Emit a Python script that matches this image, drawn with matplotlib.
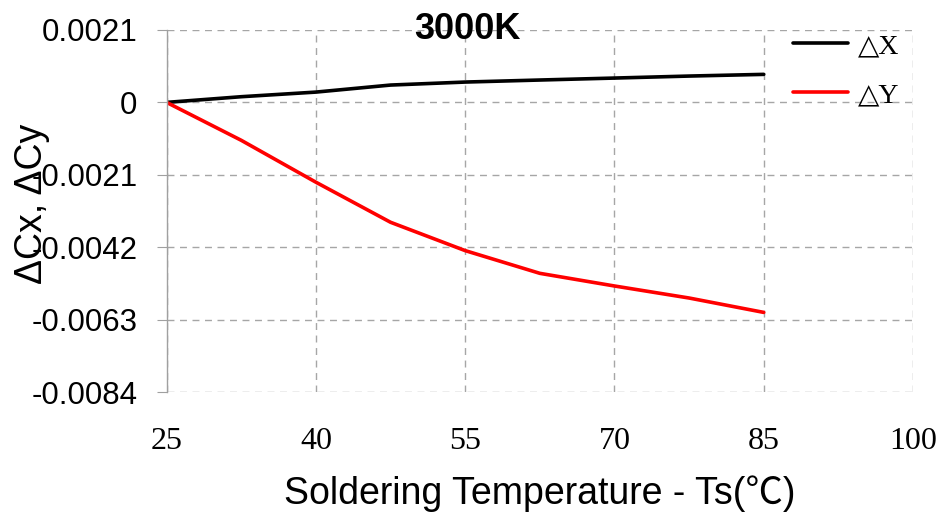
import numpy as np
from matplotlib import pyplot as plt

# data
temps = [25, 32.5, 40, 47.5, 55, 62.5, 70, 77.5, 85]
delta_x = [0, 0.000165, 0.000299, 0.000503, 0.00059, 0.000649, 0.000706, 0.000764, 0.000813]
delta_y = [0, -0.0011, -0.002315, -0.003477, -0.004299, -0.004958, -0.005325, -0.005674, -0.006091]

x_ticks = [25, 40, 55, 70, 85, 100]
y_ticks = [0.0021, 0, -0.0021, -0.0042, -0.0063, -0.0084]
y_tick_labels = ['0.0021', '0', '-0.0021', '-0.0042', '-0.0063', '-0.0084']

sans = ['Liberation Sans', 'Noto Sans CJK SC', 'DejaVu Sans']
serif = ['Liberation Serif', 'DejaVu Serif']

fig = plt.figure(figsize=(9.43, 5.19), dpi=100)
ax = fig.add_axes([0.1767, 0.2447, 0.7915, 0.6975])

ax.plot(temps, delta_x, color='black', lw=2.6, label='\u25b3X', solid_capstyle='round')
ax.plot(temps, delta_y, color='#ff0000', lw=2.6, label='\u25b3Y', solid_capstyle='round')

ax.set_xlim(25, 100)
ax.set_ylim(-0.0084, 0.0021)
ax.set_xticks(x_ticks)
ax.set_xticklabels([str(t) for t in x_ticks], family=serif, fontsize=23)
ax.set_yticks(y_ticks)
ax.set_yticklabels(y_tick_labels, family=sans, fontsize=22.5)

ax.tick_params(axis='x', length=0, pad=25)
ax.tick_params(axis='y', length=7, color='#a0a0a0', pad=14, direction='out')

for side in ['top', 'right', 'bottom']:
    ax.spines[side].set_visible(False)
ax.spines['left'].set_color('#a0a0a0')
ax.spines['left'].set_linewidth(1.0)

ax.grid(True, color='#a6a6a6', linestyle=(0, (5, 4)), linewidth=1.0)
ax.set_axisbelow(True)

ax.set_xlabel('Soldering Temperature - Ts(\u2103)', family=sans, fontsize=27, labelpad=14)
ax.set_ylabel('\u0394Cx, \u0394Cy', family=sans, fontsize=27)
ax.yaxis.set_label_coords(-0.156, 0.52)

ax.text(0.4025, 1.0, '3000K', transform=ax.transAxes, ha='center', va='center',
        family=sans, fontsize=26, fontweight='bold')

leg = ax.legend(loc='upper left', bbox_to_anchor=(0.839, 0.99), frameon=False,
                prop={'family': serif, 'size': 20}, handlelength=2.0,
                handletextpad=0.35, labelspacing=0.85, borderpad=0, borderaxespad=0)

fig.savefig('out.png', dpi=100)
